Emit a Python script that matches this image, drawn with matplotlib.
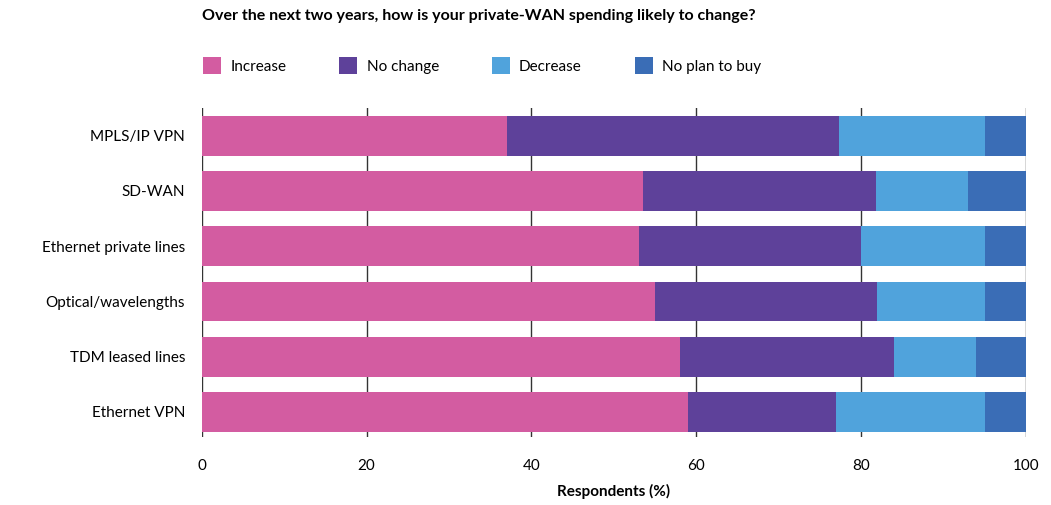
import numpy as np
import matplotlib.pyplot as plt
from matplotlib.patches import Patch

plt.rcParams['font.family'] = ['Lato', 'DejaVu Sans']

# Datos (porcentaje de encuestados)
categories = ['MPLS/IP VPN', 'SD-WAN', 'Ethernet private lines',
              'Optical/wavelengths', 'TDM leased lines', 'Ethernet VPN']
increase = np.array([37, 53.5, 53, 55, 58, 59])
no_change = np.array([40.3, 28.3, 27, 27, 26, 18])
decrease = np.array([17.7, 11.2, 15, 13, 10, 18])
no_plan = np.array([5, 7, 5, 5, 6, 5])

series_names = ['Increase', 'No change', 'Decrease', 'No plan to buy']
colors = ['#D35CA1', '#5E419A', '#50A3DC', '#3A6DB6']

fig = plt.figure(figsize=(10.51, 5.05), dpi=100)
ax = fig.add_axes([0.192, 0.135, 0.784, 0.651])

y = np.arange(len(categories))
left = np.zeros(len(categories))
for values, color in zip([increase, no_change, decrease, no_plan], colors):
    ax.barh(y, values, left=left, height=0.72, color=color, zorder=3)
    left = left + values

ax.set_xlim(0, 100)
ax.set_ylim(5.45, -0.5)
ax.set_yticks(y)
ax.set_yticklabels(categories, fontsize=11)
ax.set_xticks([0, 20, 40, 60, 80, 100])
ax.tick_params(axis='x', length=0, labelsize=11, pad=16)
ax.tick_params(axis='y', length=0, pad=12)
ax.grid(axis='x', color='#333333', linewidth=1.0, zorder=1)
for s in ax.spines.values():
    s.set_visible(False)
ax.set_xlabel('Respondents (%)', fontsize=11, fontweight='bold', labelpad=8)

fig.text(0.192, 0.968, 'Over the next two years, how is your private-WAN spending likely to change?',
         fontsize=11.5, fontweight='bold', ha='left', va='center')

handles = [Patch(facecolor=c, edgecolor='none') for c in colors]
fig.legend(handles, series_names, loc='center left', bbox_to_anchor=(0.18, 0.87),
           ncol=4, frameon=False, fontsize=11, handlelength=1.2, handleheight=1.3,
           columnspacing=3.45, handletextpad=0.6)

fig.savefig('out.png', dpi=100)
